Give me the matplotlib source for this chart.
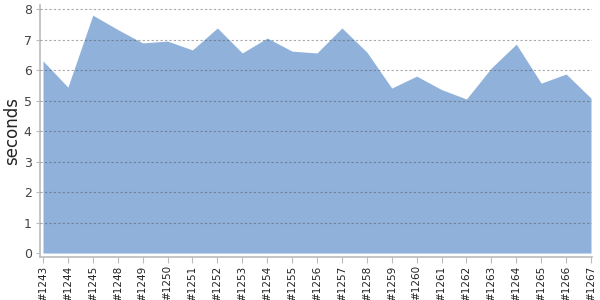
import matplotlib
matplotlib.use('Agg')
import matplotlib.pyplot as plt

builds = ['#1243', '#1244', '#1245', '#1248', '#1249', '#1250', '#1251', '#1252',
          '#1253', '#1254', '#1255', '#1256', '#1257', '#1258', '#1259', '#1260',
          '#1261', '#1262', '#1263', '#1264', '#1265', '#1266', '#1267']
seconds = [6.30, 5.44, 7.80, 7.33, 6.89, 6.95, 6.66, 7.38,
           6.56, 7.05, 6.62, 6.56, 7.38, 6.59, 5.41, 5.80,
           5.36, 5.05, 6.07, 6.85, 5.57, 5.87, 5.08]

fig = plt.figure(figsize=(6, 3), dpi=100)
ax = fig.add_axes([40 / 600, 1 - 257 / 300, 552 / 600, 252.5 / 300])

x = list(range(len(builds)))
ax.fill_between(x, seconds, 0, color='#8FB1DA', linewidth=0, zorder=2)

ax.set_xlim(-0.12, len(builds) - 1 + 0.04)
ax.set_ylim(-0.13, 8.15)
ax.set_yticks(range(0, 9))
ax.set_xticks(x)
ax.set_xticklabels(builds, rotation=90, fontsize=7.5, color='#222222')
ax.tick_params(axis='y', labelsize=9, labelcolor='#444444', length=3,
               color='#bbbbbb', pad=3)
ax.tick_params(axis='x', length=4, color='#bbbbbb', pad=2)

# dashed grid, drawn over the area but not at zero
for v in range(1, 9):
    ax.axhline(v, linestyle=(0, (2, 2)), color='#555555', alpha=0.5,
               linewidth=0.8, zorder=3)
for side in ['top', 'right']:
    ax.spines[side].set_visible(False)
for side in ['left', 'bottom']:
    ax.spines[side].set_color('#bbbbbb')
    ax.spines[side].set_linewidth(1.2)

ax.set_ylabel('seconds', fontsize=12, color='#222222')
ax.yaxis.set_label_coords(-19 / 552, 0.5)

fig.savefig('out.png', dpi=100)
